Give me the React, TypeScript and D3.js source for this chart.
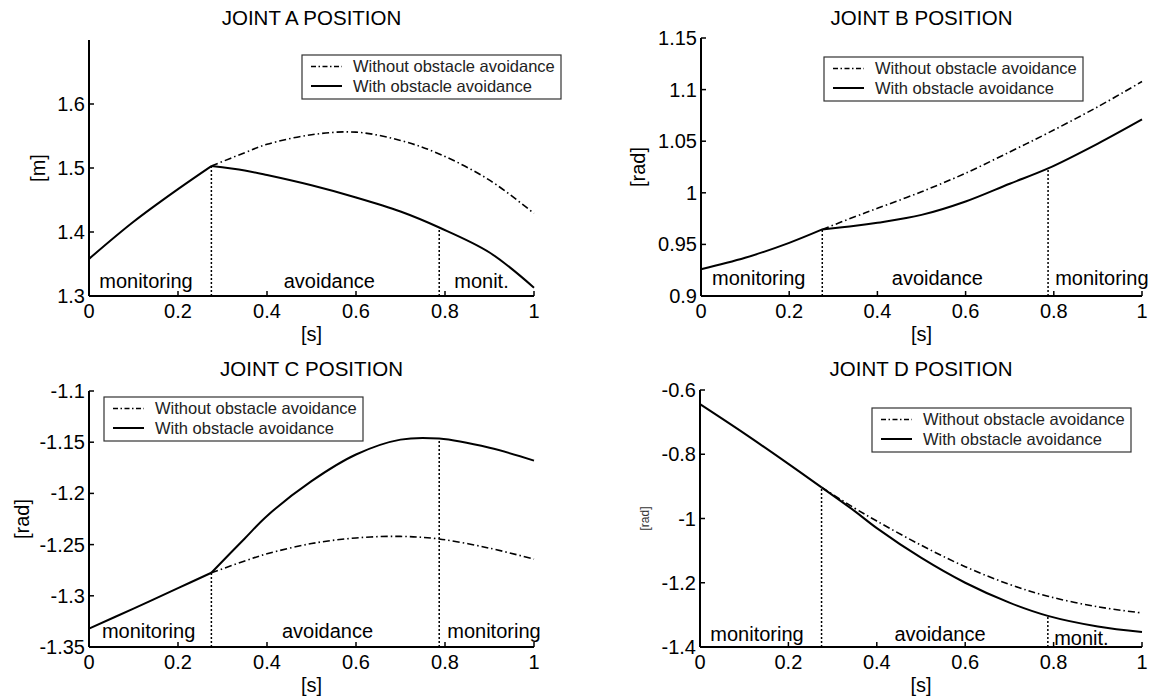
import React from "react";
import * as d3 from "d3";

// ---------- shared data ----------
const tMon = [0, 0.1, 0.2, 0.275];
const tAv = [0.275, 0.35, 0.4, 0.5, 0.6, 0.7, 0.787, 0.9, 1];
const phaseBounds = [0.275, 0.787];
const xTicks = [0, 0.2, 0.4, 0.6, 0.8, 1];
const xTickLabels = ["0", "0.2", "0.4", "0.6", "0.8", "1"];
const legendLabels = ["Without obstacle avoidance", "With obstacle avoidance"];

// ---------- Joint A ----------
const aShared = [1.358, 1.416, 1.467, 1.503];
const aWith = [1.503, 1.496, 1.489, 1.473, 1.454, 1.432, 1.407, 1.368, 1.313];
const aWithout = [1.503, 1.524, 1.537, 1.552, 1.556, 1.543, 1.522, 1.481, 1.429];
const aYTicks = [1.3, 1.4, 1.5, 1.6];
const aYTickLabels = ["1.3", "1.4", "1.5", "1.6"];
const aPhases = ["monitoring", "avoidance", "monit."];
const aPhasePos = [0.128, 0.54, 0.882];

// ---------- Joint B ----------
const bShared = [0.926, 0.937, 0.9515, 0.9645];
const bWith = [0.9645, 0.968, 0.971, 0.9786, 0.9916, 1.0088, 1.0236, 1.0477, 1.0711];
const bWithout = [0.9645, 0.977, 0.985, 1.001, 1.019, 1.0396, 1.058, 1.0834, 1.1078];
const bYTicks = [0.9, 0.95, 1, 1.05, 1.1, 1.15];
const bYTickLabels = ["0.9", "0.95", "1", "1.05", "1.1", "1.15"];
const bPhases = ["monitoring", "avoidance", "monitoring"];
const bPhasePos = [0.131, 0.536, 0.909];

// ---------- Joint C ----------
const cShared = [-1.332, -1.3125, -1.2925, -1.2775];
const cWith = [-1.2775, -1.244, -1.222, -1.188, -1.162, -1.1475, -1.1465, -1.1555, -1.168];
const cWithout = [-1.2775, -1.266, -1.259, -1.249, -1.2435, -1.242, -1.2445, -1.2535, -1.2642];
const cYTicks = [-1.35, -1.3, -1.25, -1.2, -1.15, -1.1];
const cYTickLabels = ["-1.35", "-1.3", "-1.25", "-1.2", "-1.15", "-1.1"];
const cPhases = ["monitoring", "avoidance", "monitoring"];
const cPhasePos = [0.134, 0.536, 0.91];

// ---------- Joint D ----------
const dShared = [-0.644, -0.735, -0.83, -0.903];
const dWith = [-0.903, -0.977, -1.03, -1.122, -1.2, -1.262, -1.303, -1.336, -1.353];
const dWithout = [-0.903, -0.968, -1.008, -1.083, -1.15, -1.205, -1.242, -1.275, -1.294];
const dYTicks = [-1.4, -1.2, -1, -0.8, -0.6];
const dYTickLabels = ["-1.4", "-1.2", "-1", "-0.8", "-0.6"];
const dPhases = ["monitoring", "avoidance", "monit."];
const dPhasePos = [0.129, 0.543, 0.863];

const FONT = '"Liberation Sans", Arial, Helvetica, sans-serif';

type PanelCfg = {
  title: string;
  yLabel: string;
  yLabelSize: number;
  yLabelX: number;
  yLabelColor: string;
  x0: number;
  x1: number;
  yTop: number;
  yBottom: number;
  yDomain: [number, number];
  yTicks: number[];
  yTickLabels: string[];
  shared: number[];
  withV: number[];
  withoutV: number[];
  phases: string[];
  phasePos: number[];
  phaseOffsets: number[];
  legendX: number;
  legendY: number;
  titleY: number;
};

const panels: PanelCfg[] = [
  {
    title: "JOINT A POSITION", yLabel: "[m]", yLabelSize: 20, yLabelX: 38, yLabelColor: "#000",
    x0: 89, x1: 534, yTop: 40, yBottom: 296, yDomain: [1.3, 1.7],
    yTicks: aYTicks, yTickLabels: aYTickLabels, shared: aShared, withV: aWith, withoutV: aWithout,
    phases: aPhases, phasePos: aPhasePos, phaseOffsets: [8, 8, 8],
    legendX: 302, legendY: 55, titleY: 25,
  },
  {
    title: "JOINT B POSITION", yLabel: "[rad]", yLabelSize: 20, yLabelX: 638, yLabelColor: "#000",
    x0: 701, x1: 1142, yTop: 38, yBottom: 296, yDomain: [0.9, 1.15],
    yTicks: bYTicks, yTickLabels: bYTickLabels, shared: bShared, withV: bWith, withoutV: bWithout,
    phases: bPhases, phasePos: bPhasePos, phaseOffsets: [11, 11, 11],
    legendX: 824, legendY: 57, titleY: 25,
  },
  {
    title: "JOINT C POSITION", yLabel: "[rad]", yLabelSize: 20, yLabelX: 22, yLabelColor: "#000",
    x0: 89, x1: 534, yTop: 391, yBottom: 647, yDomain: [-1.35, -1.1],
    yTicks: cYTicks, yTickLabels: cYTickLabels, shared: cShared, withV: cWith, withoutV: cWithout,
    phases: cPhases, phasePos: cPhasePos, phaseOffsets: [9, 9, 9],
    legendX: 104, legendY: 397, titleY: 376,
  },
  {
    title: "JOINT D POSITION", yLabel: "[rad]", yLabelSize: 12, yLabelX: 645, yLabelColor: "#333",
    x0: 700, x1: 1142, yTop: 390, yBottom: 647, yDomain: [-1.4, -0.6],
    yTicks: dYTicks, yTickLabels: dYTickLabels, shared: dShared, withV: dWith, withoutV: dWithout,
    phases: dPhases, phasePos: dPhasePos, phaseOffsets: [6, 6, 2],
    legendX: 872, legendY: 408, titleY: 376,
  },
];

const DASHDOT = "7 3 1.5 3";

function Panel({ p }: { p: PanelCfg }) {
  const x = d3.scaleLinear().domain([0, 1]).range([p.x0, p.x1]);
  const y = d3.scaleLinear().domain(p.yDomain).range([p.yBottom, p.yTop]);
  const line = d3
    .line<[number, number]>()
    .x((d) => x(d[0]))
    .y((d) => y(d[1]))
    .curve(d3.curveCatmullRom.alpha(0.5));
  const sharedPath = line(tMon.map((t, i) => [t, p.shared[i]] as [number, number])) || "";
  const withPath = line(tAv.map((t, i) => [t, p.withV[i]] as [number, number])) || "";
  const withoutPath = line(tAv.map((t, i) => [t, p.withoutV[i]] as [number, number])) || "";
  const cx = (p.x0 + p.x1) / 2;
  const cy = (p.yTop + p.yBottom) / 2;
  const lw = 259;
  const lh = 44;

  return (
    <g fontFamily={FONT}>
      <text x={cx} y={p.titleY} textAnchor="middle" fontSize={20.5} fill="#000">
        {p.title}
      </text>

      {/* curves */}
      <path d={withoutPath} fill="none" stroke="#000" strokeWidth={1.6} strokeDasharray={DASHDOT} />
      <path d={sharedPath} fill="none" stroke="#000" strokeWidth={2} />
      <path d={withPath} fill="none" stroke="#000" strokeWidth={2} />

      {/* phase boundaries */}
      {phaseBounds.map((b, i) => {
        const idx = tAv.indexOf(b);
        return (
          <line
            key={"pb" + i}
            x1={x(b)}
            x2={x(b)}
            y1={p.yBottom}
            y2={y(p.withV[idx])}
            stroke="#000"
            strokeWidth={1.5}
            strokeDasharray="2 2"
          />
        );
      })}

      {/* phase labels */}
      {p.phases.map((s, i) => (
        <text
          key={"ph" + i}
          x={x(p.phasePos[i])}
          y={p.yBottom - p.phaseOffsets[i]}
          textAnchor="middle"
          fontSize={20}
          fill="#000"
        >
          {s}
        </text>
      ))}

      {/* axes */}
      <line x1={p.x0} x2={p.x0} y1={p.yBottom} y2={p.yTop} stroke="#000" strokeWidth={2} />
      <line x1={p.x0} x2={p.x1} y1={p.yBottom} y2={p.yBottom} stroke="#000" strokeWidth={2} />
      {xTicks.map((t, i) => (
        <g key={"xt" + i}>
          <line x1={x(t)} x2={x(t)} y1={p.yBottom} y2={p.yBottom - 5} stroke="#000" strokeWidth={1.5} />
          <text x={x(t)} y={p.yBottom + 22} textAnchor="middle" fontSize={20} fill="#000">
            {xTickLabels[i]}
          </text>
        </g>
      ))}
      {p.yTicks.map((v, i) => (
        <g key={"yt" + i}>
          <line x1={p.x0} x2={p.x0 + 5} y1={y(v)} y2={y(v)} stroke="#000" strokeWidth={1.5} />
          <text x={p.x0 - 4} y={y(v)} dy="0.35em" textAnchor="end" fontSize={20} fill="#000">
            {p.yTickLabels[i]}
          </text>
        </g>
      ))}

      {/* axis labels */}
      <text x={cx} y={p.yBottom + 45} textAnchor="middle" fontSize={20} fill="#000">
        [s]
      </text>
      <text
        transform={`translate(${p.yLabelX},${cy}) rotate(-90)`}
        dy="0.35em"
        textAnchor="middle"
        fontSize={p.yLabelSize}
        fill={p.yLabelColor}
      >
        {p.yLabel}
      </text>

      {/* legend */}
      <g transform={`translate(${p.legendX},${p.legendY})`}>
        <rect x={0} y={0} width={lw} height={lh} fill="#fff" stroke="#333" strokeWidth={1.2} />
        <line x1={9} x2={40} y1={11.5} y2={11.5} stroke="#000" strokeWidth={1.5} strokeDasharray="5 2.5 1.5 2.5" />
        <line x1={9} x2={40} y1={31} y2={31} stroke="#000" strokeWidth={2} />
        <text x={51} y={11.5} dy="0.35em" fontSize={16.5} fill="#222">
          {legendLabels[0]}
        </text>
        <text x={51} y={31} dy="0.35em" fontSize={16.5} fill="#222">
          {legendLabels[1]}
        </text>
      </g>
    </g>
  );
}

export default function App() {
  return (
    <div style={{ position: "absolute", left: 0, top: 0 }}>
      <svg width={1152} height={699} style={{ display: "block", background: "#fff" }}>
        <rect x={0} y={0} width={1152} height={699} fill="#fff" />
        {panels.map((p, i) => (
          <Panel key={i} p={p} />
        ))}
      </svg>
    </div>
  );
}
